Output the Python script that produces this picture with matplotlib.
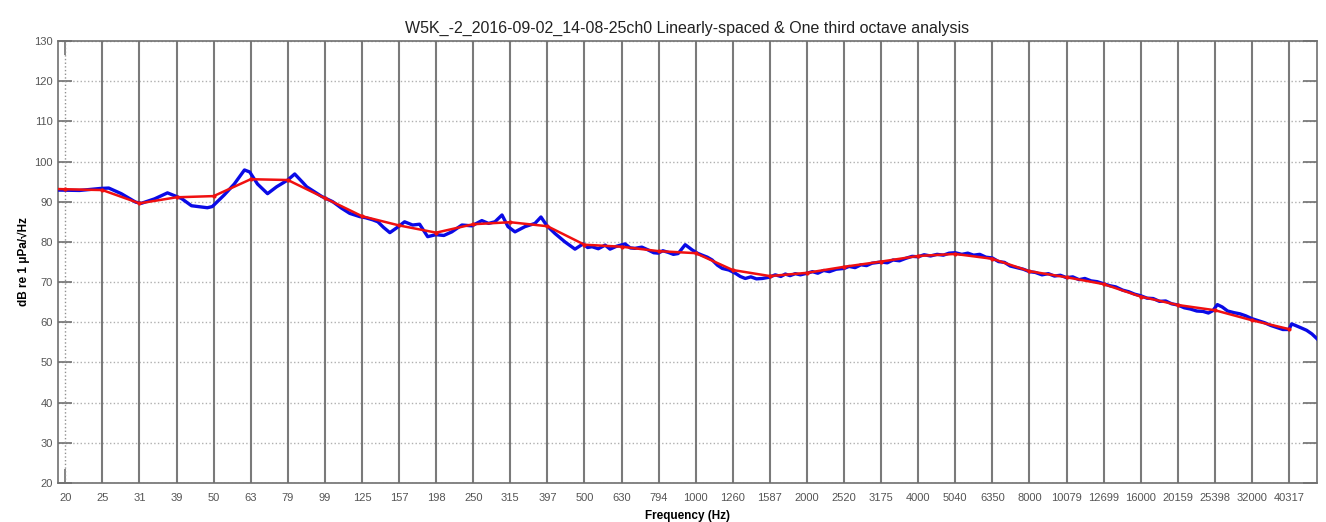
import matplotlib.pyplot as plt

plt.rcParams['font.family'] = ['Liberation Sans', 'DejaVu Sans']

# One-third octave band centres (Hz) and their axis labels
band_hz = [19.69, 24.80, 31.25, 39.37, 49.61, 62.50, 78.75, 99.21, 125.0, 157.5,
           198.4, 250.0, 315.0, 396.9, 500.0, 630.0, 793.7, 1000.0, 1259.9, 1587.4,
           2000.0, 2519.8, 3174.8, 4000.0, 5039.7, 6349.6, 8000.0, 10079.4, 12699.2,
           16000.0, 20158.7, 25398.4, 32000.0, 40317.5]
band_labels = ['20', '25', '31', '39', '50', '63', '79', '99', '125', '157', '198',
               '250', '315', '397', '500', '630', '794', '1000', '1260', '1587',
               '2000', '2520', '3175', '4000', '5040', '6350', '8000', '10079',
               '12699', '16000', '20159', '25398', '32000', '40317']

# one third octave levels (dB), first point is the 15.6 Hz band
octave_hz = [15.63] + band_hz
octave_db = [93.4, 93.1, 92.9, 89.6, 91.1, 91.4, 95.6, 95.4, 90.9, 86.4, 84.1,
             82.3, 84.4, 84.9, 83.9, 79.3, 78.8, 77.7, 77.2, 73.0, 71.5,
             72.3, 73.8, 75.1, 76.5, 77.0, 75.8, 72.7, 71.2, 69.5,
             66.4, 64.3, 63.0, 60.5, 58.3]

# linearly spaced spectrum
lin_hz = [18.8, 21.5, 24.5, 25.8, 27.9, 30.5, 31.6, 34.3, 37.2, 40.6, 43.2, 47.7,
          49.2, 53.0, 56.4, 60.1, 62.1, 65.2, 69.4, 73.4, 78.7, 82.2, 86.4, 88.6,
          97.3, 104.2, 110.0, 115.8, 123.2, 128.0, 133.6, 138.0, 143.0, 148.7,
          155.2, 163.0, 171.4, 179.0, 188.2, 198.1, 208.2, 218.8, 232.9, 247.9,
          263.8, 275.0, 286.2, 299.1, 310.5, 324.3, 345.1, 367.3, 381.3, 395.8,
          416.0, 442.8, 471.3, 495.5, 510.0, 524.1, 545.0, 568.8, 586.4, 610.0,
          643.9, 665.0, 685.3, 715.0, 743.4, 770.0, 791.2, 815.0, 842.1, 870.0,
          896.3, 936.6, 978.4, 1010.0, 1041.0, 1075.0, 1108.0, 1145.0, 1180.0,
          1230.0, 1280.0, 1320.0, 1362.0, 1410.0, 1460.0, 1514.0, 1580.0, 1642.0,
          1700.0, 1748.0, 1800.0, 1860.0, 1920.0, 2000.0, 2070.0, 2140.0, 2220.0,
          2300.0, 2400.0, 2520.0, 2600.0, 2700.0, 2800.0, 2900.0, 3000.0, 3175.0,
          3300.0, 3420.0, 3560.0, 3700.0, 3850.0, 4000.0, 4150.0, 4320.0, 4500.0,
          4680.0, 4850.0, 5040.0, 5250.0, 5450.0, 5650.0, 5870.0, 6100.0, 6350.0,
          6600.0, 6850.0, 7100.0, 7400.0, 7700.0, 8000.0, 8300.0, 8650.0, 9000.0,
          9350.0, 9700.0, 10079.0, 10480.0, 10900.0, 11300.0, 11750.0, 12200.0,
          12699.0, 13200.0, 13700.0, 14300.0, 14850.0, 15400.0, 16000.0, 16650.0,
          17300.0, 18000.0, 18700.0, 19400.0, 20159.0, 21000.0, 21800.0, 22700.0,
          23600.0, 24400.0, 25100.0, 25800.0, 26600.0, 27500.0, 28600.0, 29700.0,
          30800.0, 32000.0, 33300.0, 34600.0, 36000.0, 37400.0, 38800.0, 40317.0,
          41000.0, 42000.0, 43500.0, 45000.0, 46500.0, 48000.0]
lin_db = [92.9, 92.8, 93.3, 93.4, 92.0, 89.9, 89.6, 90.7, 92.2, 90.8, 89.0, 88.5,
          88.8, 91.7, 94.4, 97.9, 97.4, 94.4, 92.0, 93.7, 95.4, 96.9, 94.8, 93.7,
          91.3, 90.0, 88.4, 87.1, 86.3, 86.0, 85.5, 85.0, 83.6, 82.3,
          83.5, 85.0, 84.2, 84.4, 81.3, 81.8, 81.6, 82.5, 84.2, 84.0,
          85.3, 84.6, 85.0, 86.7, 83.8, 82.5, 83.8, 84.6, 86.2, 84.0,
          82.1, 80.0, 78.2, 79.5, 78.6, 78.8, 78.3, 79.2, 78.2, 78.9,
          79.5, 78.5, 78.4, 78.7, 78.0, 77.3, 77.2, 77.8, 77.4, 76.9,
          77.1, 79.3, 78.0, 77.2, 76.7, 76.2, 75.5, 74.2, 73.4,
          73.0, 72.2, 71.4, 70.9, 71.3, 70.8, 70.9, 71.2, 71.8,
          71.4, 72.0, 71.6, 72.1, 71.8, 72.2, 72.6, 72.2, 72.9,
          72.6, 73.2, 73.4, 73.9, 73.6, 74.3, 74.1, 74.7, 75.0,
          74.8, 75.5, 75.3, 75.9, 76.4, 76.3, 76.8, 76.5, 76.9,
          76.7, 77.2, 77.3, 76.9, 77.2, 76.7, 76.9, 76.2, 76.0,
          75.1, 74.9, 74.0, 73.6, 73.2, 72.6, 72.4, 71.8, 72.1,
          71.5, 71.7, 71.1, 71.3, 70.6, 70.9, 70.3, 70.1,
          69.6, 69.1, 68.8, 68.0, 67.6, 67.0, 66.6, 66.0,
          65.9, 65.2, 65.3, 64.6, 64.3, 63.6, 63.3, 62.8,
          62.7, 62.3, 62.9, 64.4, 63.8, 62.8, 62.4, 62.1,
          61.6, 60.9, 60.4, 59.9, 59.2, 58.7, 58.2, 58.2,
          59.6, 59.2, 58.6, 58.0, 57.1, 55.9]

fig = plt.figure(figsize=(13.26, 5.22), dpi=100)
ax = fig.add_axes([0.0437, 0.0747, 0.9495, 0.8468])

ax.plot(lin_hz, lin_db, color='#0a0ae6', linewidth=2.4, zorder=3)
ax.plot(octave_hz, octave_db, color='#f01010', linewidth=1.8, marker='.',
        markersize=4, zorder=4)

ax.set_xscale('log')
ax.set_xlim(18.8, 48000)
ax.set_ylim(20, 130)

# band lines: dotted at the first band, solid at the rest
ax.axvline(band_hz[0], color='#909090', linestyle=':', linewidth=1.0, zorder=1)
for f in band_hz[1:]:
    ax.axvline(f, color='#7a7a7a', linewidth=1.5, zorder=1)

ax.set_xticks(band_hz)
ax.set_xticklabels(band_labels)
ax.xaxis.set_minor_locator(plt.NullLocator())
ax.set_yticks(range(20, 131, 10))
ax.yaxis.grid(True, linestyle=':', color='#b0b0b0', linewidth=1.0)
ax.set_axisbelow(True)

ax.tick_params(direction='in', length=10, width=1.2, color='#707070',
               labelsize=8, labelcolor='#555555', top=True, right=True)
ax.tick_params(axis='x', pad=7)
for s in ax.spines.values():
    s.set_color('#707070')
    s.set_linewidth(1.2)

ax.set_title('W5K_-2_2016-09-02_14-08-25ch0 Linearly-spaced & One third octave analysis',
             fontsize=11.5, color='#222222', pad=6)
ax.set_xlabel('Frequency (Hz)', fontsize=8.5, fontweight='bold', labelpad=5)
ax.set_ylabel('dB re 1 \u03bcPa/\u221aHz', fontsize=8.5, fontweight='bold', labelpad=3)

fig.savefig('out.png', dpi=100)
